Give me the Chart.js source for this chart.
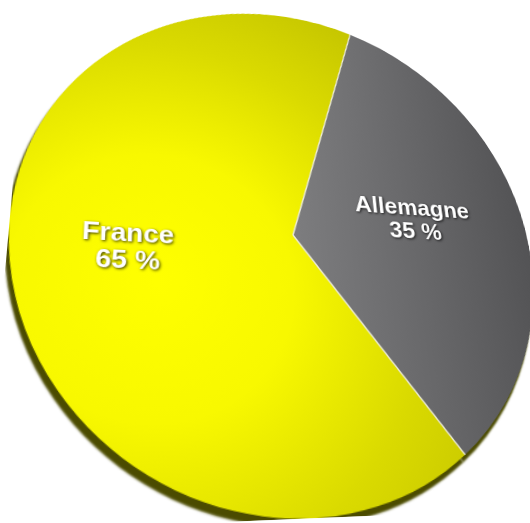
<!DOCTYPE html>
<html>
<head>
<meta charset="utf-8">
<script src="https://cdn.jsdelivr.net/npm/chart.js@4.4.1/dist/chart.umd.min.js"></script>
<style>
  html, body { margin: 0; padding: 0; background: #fff; }
  body { width: 530px; height: 523px; overflow: hidden; position: relative; }
  /* pie is tilted away at the top-right, like the original 3D render */
  #wrap {
    position: absolute; left: 25px; top: -33px; width: 536px; height: 536px;
    transform: perspective(800px) rotate3d(0.819, 0.574, 0, 28deg);
  }
</style>
</head>
<body>
<div id="wrap"><canvas id="pie"></canvas></div>
<script>
// data
const pays = ['Allemagne', 'France'];
const parts = [35, 65];
const etiquettes = ['35 %', '65 %'];

// label distance from centre, as a share of the radius
const labelRadius = [0.51, 0.61];

function fillFor(ctx) {
    const chart = ctx.chart;
    const a = chart.chartArea;
    if (!a) return null;
    const c = chart.ctx;
    const cx = (a.left + a.right) / 2, cy = (a.top + a.bottom) / 2;
    const r = Math.min(a.right - a.left, a.bottom - a.top) / 2;
    if (ctx.dataIndex === 1) {
        const g = c.createRadialGradient(cx - r * 0.5, cy + r * 0.2, 0, cx - r * 0.5, cy + r * 0.2, r * 1.4);
        g.addColorStop(0, '#ffff00');
        g.addColorStop(0.35, '#f8f800');
        g.addColorStop(0.7, '#dada00');
        g.addColorStop(1, '#c6c600');
        return g;
    }
    const g = c.createLinearGradient(cx, cy, cx + r, cy);
    g.addColorStop(0, '#7d7d7f');
    g.addColorStop(1, '#535355');
    return g;
}

const rimAndLabels = {
    id: 'rimAndLabels',
    beforeDatasetsDraw(chart) {
        const ctx = chart.ctx;
        ctx.save();
        ctx.shadowColor = 'rgba(75, 75, 0, 1)';
        ctx.shadowOffsetX = -3;
        ctx.shadowOffsetY = 7;
        ctx.shadowBlur = 2;
    },
    afterDatasetsDraw(chart) {
        const ctx = chart.ctx;
        ctx.restore();
        const arcs = chart.getDatasetMeta(0).data;
        // thin light edge between the slices
        ctx.save();
        ctx.strokeStyle = '#ecebd8';
        ctx.lineWidth = 1.5;
        arcs.forEach(function (arc) {
            const p = arc.getProps(['x', 'y', 'startAngle', 'outerRadius']);
            ctx.beginPath();
            ctx.moveTo(p.x, p.y);
            ctx.lineTo(p.x + p.outerRadius * Math.cos(p.startAngle), p.y + p.outerRadius * Math.sin(p.startAngle));
            ctx.stroke();
        });
        ctx.restore();

        ctx.save();
        ctx.font = 'bold 26px "Liberation Sans", Arial, sans-serif';
        ctx.textAlign = 'center';
        ctx.textBaseline = 'middle';
        ctx.fillStyle = '#ffffff';
        ctx.shadowColor = 'rgba(0, 0, 0, 0.8)';
        ctx.shadowBlur = 3;
        ctx.shadowOffsetX = 1;
        ctx.shadowOffsetY = 1;
        arcs.forEach(function (arc, i) {
            const p = arc.getProps(['x', 'y', 'startAngle', 'endAngle', 'outerRadius']);
            const mid = (p.startAngle + p.endAngle) / 2;
            const r = p.outerRadius * labelRadius[i];
            const lx = p.x + r * Math.cos(mid);
            const ly = p.y + r * Math.sin(mid);
            ctx.fillText(pays[i], lx, ly - 17);
            ctx.fillText(etiquettes[i], lx, ly + 10);
        });
        ctx.restore();
    }
};

new Chart(document.getElementById('pie'), {
    type: 'pie',
    data: {
        labels: pays,
        datasets: [{
            data: parts,
            backgroundColor: fillFor,
            borderWidth: 0,
            hoverOffset: 0,
            offset: 0
        }]
    },
    options: {
        responsive: true,
        maintainAspectRatio: false,
        animation: false,
        rotation: 18,
        layout: { padding: 0 },
        plugins: {
            legend: { display: false },
            tooltip: { enabled: false }
        },
        events: []
    },
    plugins: [rimAndLabels]
});
</script>
</body>
</html>
